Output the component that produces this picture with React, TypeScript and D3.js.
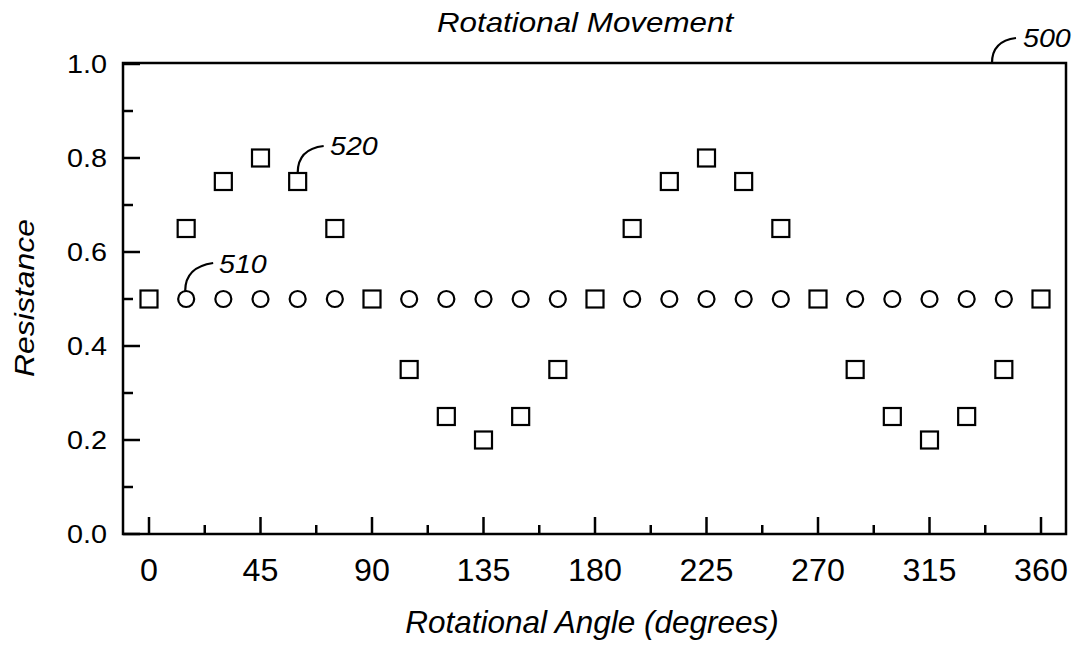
import React, { useRef, useEffect } from "react";
import * as d3 from "d3";

// Squares: resistance vs rotational angle (520)
const squareAngles = [0, 15, 30, 45, 60, 75, 90, 105, 120, 135, 150, 165, 180, 195, 210, 225, 240, 255, 270, 285, 300, 315, 330, 345, 360];
const squareValues = [0.5, 0.65, 0.75, 0.8, 0.75, 0.65, 0.5, 0.35, 0.25, 0.2, 0.25, 0.35, 0.5, 0.65, 0.75, 0.8, 0.75, 0.65, 0.5, 0.35, 0.25, 0.2, 0.25, 0.35, 0.5];

// Circles: constant resistance (510)
const circleAngles = [15, 30, 45, 60, 75, 105, 120, 135, 150, 165, 195, 210, 225, 240, 255, 285, 300, 315, 330, 345];
const circleValues = [0.5, 0.5, 0.5, 0.5, 0.5, 0.5, 0.5, 0.5, 0.5, 0.5, 0.5, 0.5, 0.5, 0.5, 0.5, 0.5, 0.5, 0.5, 0.5, 0.5];

const xMajorTicks = [0, 45, 90, 135, 180, 225, 270, 315, 360];
const xMinorTicks = [22.5, 67.5, 112.5, 157.5, 202.5, 247.5, 292.5, 337.5];
const yMajorTicks = [0, 0.2, 0.4, 0.6, 0.8, 1.0];
const yMinorTicks = [0.1, 0.3, 0.5, 0.7, 0.9];

const FONT = "'Liberation Sans', Arial, sans-serif";

const RotationChart: React.FC = () => {
  const svgRef = useRef<SVGSVGElement | null>(null);

  useEffect(() => {
    const width = 1083;
    const height = 646;
    const frame = { left: 123, right: 1066, top: 63, bottom: 534 };

    d3.select(svgRef.current).selectAll("*").remove();
    const svg = d3.select(svgRef.current).attr("width", width).attr("height", height);

    const x = d3.scaleLinear().domain([0, 360]).range([149, 1041]);
    const y = d3.scaleLinear().domain([0, 1]).range([frame.bottom, 64]);

    // text helper: the source figure is slightly stretched horizontally
    const label = (
      tx: number,
      ty: number,
      text: string,
      size: number,
      sx: number,
      anchor: string,
      italic: boolean,
      rotate = 0
    ) =>
      svg
        .append("text")
        .attr("transform", `translate(${tx},${ty}) rotate(${rotate}) scale(${sx},1)`)
        .attr("text-anchor", anchor)
        .style("font-family", FONT)
        .style("font-style", italic ? "italic" : "normal")
        .style("font-size", `${size}px`)
        .text(text);

    // Frame
    svg
      .append("rect")
      .attr("x", frame.left)
      .attr("y", frame.top)
      .attr("width", frame.right - frame.left)
      .attr("height", frame.bottom - frame.top)
      .attr("fill", "none")
      .attr("stroke", "#000")
      .attr("stroke-width", 2.5);

    // x ticks (inward, from bottom)
    svg
      .selectAll(".xmaj")
      .data(xMajorTicks)
      .join("line")
      .attr("x1", (d) => x(d))
      .attr("x2", (d) => x(d))
      .attr("y1", frame.bottom)
      .attr("y2", frame.bottom - 17)
      .attr("stroke", "#000")
      .attr("stroke-width", 2.5);
    svg
      .selectAll(".xmin")
      .data(xMinorTicks)
      .join("line")
      .attr("x1", (d) => x(d))
      .attr("x2", (d) => x(d))
      .attr("y1", frame.bottom)
      .attr("y2", frame.bottom - 9)
      .attr("stroke", "#000")
      .attr("stroke-width", 2.5);

    // y ticks (inward, from left)
    svg
      .selectAll(".ymaj")
      .data(yMajorTicks)
      .join("line")
      .attr("x1", frame.left)
      .attr("x2", frame.left + 17)
      .attr("y1", (d) => y(d))
      .attr("y2", (d) => y(d))
      .attr("stroke", "#000")
      .attr("stroke-width", 2.5);
    svg
      .selectAll(".ymin")
      .data(yMinorTicks)
      .join("line")
      .attr("x1", frame.left)
      .attr("x2", frame.left + 10)
      .attr("y1", (d) => y(d))
      .attr("y2", (d) => y(d))
      .attr("stroke", "#000")
      .attr("stroke-width", 2.5);

    // Tick labels
    xMajorTicks.forEach((t) => label(x(t), 581, String(t), 31, 1.04, "middle", false));
    yMajorTicks.forEach((t) => label(107, y(t) + 9, d3.format(".1f")(t), 25.5, 1.13, "end", false));

    // Titles
    label(585, 31.5, "Rotational Movement", 28, 1.12, "middle", true);
    label(592, 633, "Rotational Angle (degrees)", 31.5, 1.0, "middle", true);
    label(34, 298, "Resistance", 28, 1.14, "middle", true, -90);

    // Circles
    svg
      .selectAll(".circ")
      .data(circleAngles.map((a, i) => ({ a, v: circleValues[i] })))
      .join("circle")
      .attr("cx", (d) => x(d.a))
      .attr("cy", (d) => y(d.v))
      .attr("r", 8)
      .attr("fill", "#fff")
      .attr("stroke", "#000")
      .attr("stroke-width", 2.2);

    // Squares
    const s = 17;
    svg
      .selectAll(".sq")
      .data(squareAngles.map((a, i) => ({ a, v: squareValues[i] })))
      .join("rect")
      .attr("x", (d) => x(d.a) - s / 2)
      .attr("y", (d) => y(d.v) - s / 2)
      .attr("width", s)
      .attr("height", s)
      .attr("fill", "#fff")
      .attr("stroke", "#000")
      .attr("stroke-width", 2.2);

    // Reference numeral annotations
    const sq60 = { x: x(60), y: y(0.75) - s / 2 };
    const c15 = { x: x(15), y: y(0.5) - 8 };
    const notes = [
      { text: "520", d: `M${sq60.x},${sq60.y} Q${sq60.x},${sq60.y - 24} ${sq60.x + 26},${sq60.y - 27}`, tx: 330, ty: 155 },
      { text: "510", d: `M${c15.x - 1},${c15.y} Q${c15.x - 1},${c15.y - 24} ${c15.x + 27},${c15.y - 28}`, tx: 219, ty: 273 },
      { text: "500", d: `M992,${frame.top} Q992,${frame.top - 22} 1016,${frame.top - 25}`, tx: 1023, ty: 47 },
    ];
    notes.forEach((n) => {
      svg
        .append("path")
        .attr("d", n.d)
        .attr("fill", "none")
        .attr("stroke", "#000")
        .attr("stroke-width", 2.2);
      label(n.tx, n.ty, n.text, 26, 1.1, "start", true);
    });
  }, []);

  return <svg ref={svgRef} style={{ display: "block", position: "absolute", left: 0, top: 0, background: "#fff" }}></svg>;
};

export default function App() {
  return <RotationChart />;
}
